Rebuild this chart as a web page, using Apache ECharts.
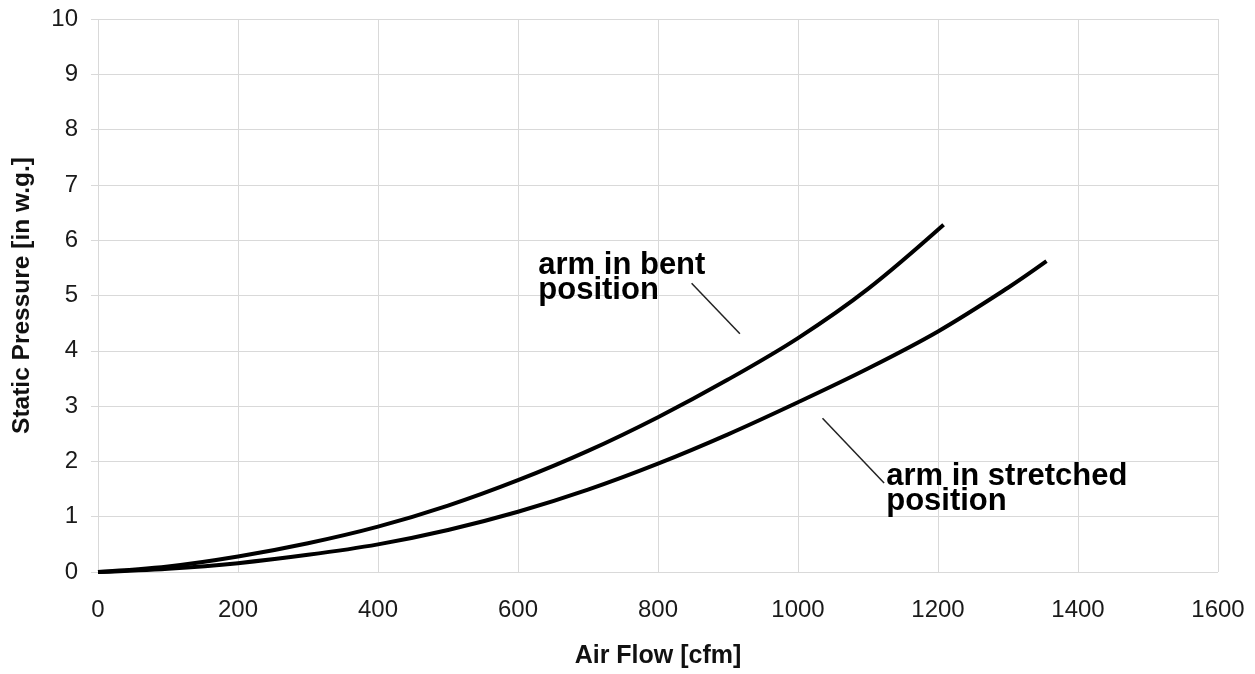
<!DOCTYPE html>
<html>
<head>
<meta charset="utf-8">
<script src="https://cdn.jsdelivr.net/npm/echarts@6/dist/echarts.min.js"></script>
<style>
html,body{margin:0;padding:0;background:#fff;}
#c{width:1255px;height:674px;}
</style>
</head>
<body>
<div id="c"></div>
<script>
// ---- data ----
const xTicks = [0, 200, 400, 600, 800, 1000, 1200, 1400, 1600];
const yTicks = [0, 1, 2, 3, 4, 5, 6, 7, 8, 9, 10];
const flowBent = [0, 100, 200, 300, 400, 500, 600, 700, 800, 900, 1000, 1100, 1208];
const pressureBent = [0, 0.10, 0.28, 0.52, 0.82, 1.20, 1.66, 2.19, 2.80, 3.48, 4.23, 5.12, 6.28];
const flowStretched = [0, 100, 200, 300, 400, 500, 600, 700, 800, 900, 1000, 1100, 1200, 1300, 1355];
const pressureStretched = [0, 0.06, 0.16, 0.31, 0.50, 0.76, 1.09, 1.49, 1.96, 2.49, 3.07, 3.68, 4.35, 5.14, 5.62];
const labelBent = ['arm in bent', 'position'];
const labelStretched = ['arm in stretched', 'position'];
const pointerBent = [[848, 5.22], [917, 4.31]];
const pointerStretched = [[1035, 2.78], [1123, 1.61]];
const anchorBent = [629, 5.77];
const anchorStretched = [1126, 1.95];

const FONT = '"Liberation Sans", Arial, Helvetica, sans-serif';
const pairs = (xs, ys) => xs.map((x, i) => [x, ys[i]]);

const chart = echarts.init(document.getElementById('c'), null, {renderer: 'canvas'});
const option = {
  backgroundColor: '#ffffff',
  animation: false,
  grid: {left: 98, right: 37, top: 19, bottom: 97, containLabel: false},
  xAxis: {
    type: 'value', min: xTicks[0], max: xTicks[xTicks.length - 1], interval: 200,
    name: 'Air Flow [cfm]', nameLocation: 'middle', nameGap: 72,
    nameTextStyle: {fontFamily: FONT, fontWeight: 'bold', fontSize: 25, color: '#111'},
    axisLine: {show: false}, axisTick: {show: false},
    axisLabel: {fontFamily: FONT, fontSize: 24, color: '#1a1a1a', margin: 26,
                formatter: v => String(v)},
    splitLine: {show: true, lineStyle: {color: '#d9d9d9', width: 1}}
  },
  yAxis: {
    type: 'value', min: yTicks[0], max: yTicks[yTicks.length - 1], interval: 1,
    name: 'Static Pressure [in w.g.]', nameLocation: 'middle', nameGap: 63,
    nameTextStyle: {fontFamily: FONT, fontWeight: 'bold', fontSize: 24.5, color: '#111'},
    axisLine: {show: false},
    axisTick: {show: true, length: 7, lineStyle: {color: '#d9d9d9'}},
    axisLabel: {fontFamily: FONT, fontSize: 24, color: '#1a1a1a', margin: 20,
                formatter: v => String(v)},
    splitLine: {show: true, lineStyle: {color: '#d9d9d9', width: 1}}
  },
  series: [
    {type: 'line', name: 'bent', data: pairs(flowBent, pressureBent), smooth: 0.35,
     symbol: 'none', lineStyle: {color: '#000', width: 4}, silent: true, z: 3},
    {type: 'line', name: 'stretched', data: pairs(flowStretched, pressureStretched), smooth: 0.35,
     symbol: 'none', lineStyle: {color: '#000', width: 4}, silent: true, z: 3},
    {type: 'line', name: 'pBent', data: pointerBent, symbol: 'none',
     lineStyle: {color: '#222', width: 1.5}, silent: true, z: 2},
    {type: 'line', name: 'pStretched', data: pointerStretched, symbol: 'none',
     lineStyle: {color: '#222', width: 1.5}, silent: true, z: 2}
  ]
};
chart.setOption(option);

function textAt(anchor, lines) {
  const p = chart.convertToPixel({gridIndex: 0}, anchor);
  return {
    type: 'text', x: p[0], y: p[1], z: 10, silent: true,
    style: {text: lines.join('\n'), fontFamily: FONT, fontWeight: 'bold', fontSize: 31,
            lineHeight: 25, fill: '#000', align: 'left', verticalAlign: 'top'}
  };
}
chart.setOption({graphic: [textAt(anchorBent, labelBent), textAt(anchorStretched, labelStretched)]});
</script>
</body>
</html>
